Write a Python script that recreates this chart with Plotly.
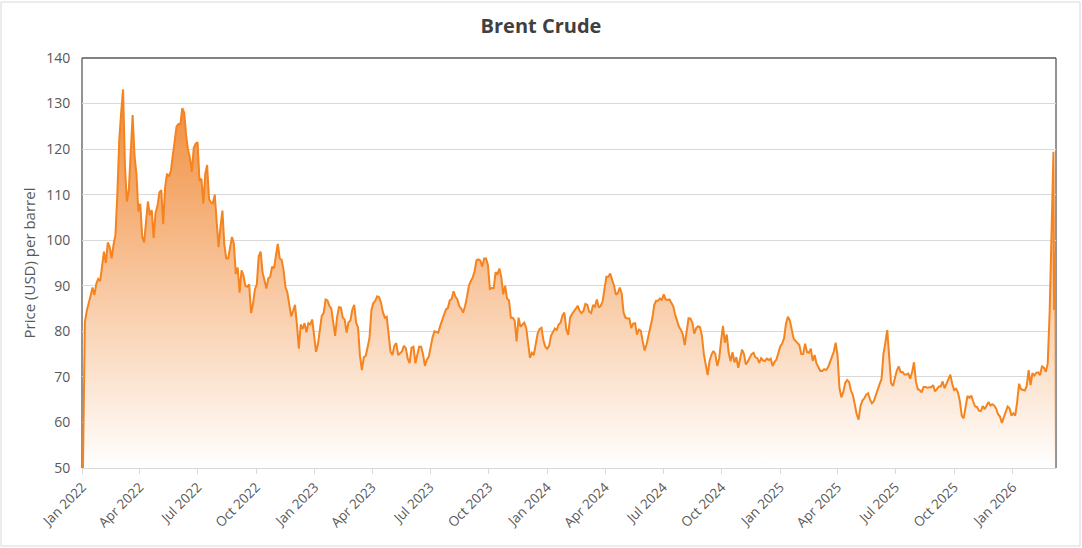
import pandas as pd
import plotly.graph_objects as go

# Brent crude price (USD per barrel) at 3-day spacing
grid_dates = pd.date_range("2022-01-02", periods=509, freq="3D").strftime("%Y-%m-%d").tolist()
tail_dates = ["2026-03-07", "2026-03-09", "2026-03-10"]
dates = grid_dates + tail_dates

grid_prices = [
    50, 82, 84.5, 86.5, 87.8, 89.6, 88, 90.5, 91.5, 91,
    94.5, 97.5, 95, 99.5, 98.5, 96, 99, 101.1, 110, 122,
    128, 133.1, 116, 108.5, 111, 121, 127.5, 118.5, 114.5, 106.3,
    108, 100.8, 99.5, 104, 108.5, 105.5, 106.6, 100.5, 106, 107.5,
    110.5, 111, 103.5, 111.5, 114.6, 114, 115.2, 118.5, 121.5, 125,
    125.5, 125.5, 129, 128, 123, 119.8, 118, 115, 120.3, 121.2,
    121.5, 113, 113.5, 108, 114.5, 116.5, 109, 108.3, 108.1, 110,
    104, 98.5, 103, 106.5, 99, 96, 96, 98, 100.7, 99.3,
    92.6, 94, 88.5, 93.4, 92.3, 90, 89.8, 90.3, 84, 86,
    89.2, 90.3, 96.5, 97.5, 93, 91.2, 89.4, 91.6, 92, 94.2,
    93.8, 96.6, 99.2, 96, 95.7, 93.5, 89.7, 88.5, 85.5, 83.3,
    84.5, 85.8, 81.5, 76.2, 81.5, 80.5, 81.8, 79.8, 81.8, 81.5,
    82.6, 79, 75.5, 77.2, 80.5, 83.4, 84, 87, 86.8, 85.6,
    85, 81.8, 79, 83, 85.3, 85.2, 83, 82.6, 79.7, 82,
    82.4, 84.8, 85.8, 81.9, 80.8, 74.6, 71.5, 74.3, 74.6, 76.5,
    78.6, 84.7, 86.2, 86.7, 87.7, 87.5, 86.3, 84.2, 83, 83.2,
    78.8, 75.5, 74.8, 76.8, 77.4, 74.8, 75.2, 75.6, 76.8, 76.3,
    74, 73, 76.4, 76.6, 73, 74.5, 76.6, 76.6, 75, 72.4,
    73.8, 74.4, 76.8, 78.7, 80, 79.8, 79.7, 81.2, 82.5, 84,
    84.8, 85.1, 86.8, 87.1, 88.8, 87.6, 87, 85.5, 85, 84.1,
    85.5, 87.5, 90, 91, 91.8, 93.2, 95.6, 95.8, 95.5, 94.2,
    96, 96, 94.5, 89.3, 89.5, 89.5, 93, 92.6, 93.8, 91.8,
    88.1, 90, 87.2, 86.8, 83, 83, 82.3, 77.8, 83, 81,
    81.5, 81.9, 80.8, 78, 74.2, 75.3, 74.8, 77.2, 79.5, 80.5,
    80.8, 78.1, 76.6, 76.2, 76.8, 79, 79.8, 80.6, 80.3, 81.5,
    81.9, 83.5, 84.1, 80.5, 79.2, 83, 83.8, 84.5, 84.9, 85.6,
    84.5, 84, 84.5, 86, 85.8, 84.3, 84, 85.8, 85.4, 87,
    85.2, 85.6, 86.6, 89, 92, 92, 92.7, 91.3, 90, 88,
    88.4, 89.6, 88.3, 84.1, 83, 82.8, 82.8, 80.7, 81.7, 81.8,
    79.3, 80.4, 80.1, 77.8, 75.8, 77.1, 78.8, 80.5, 82.8, 85.7,
    86.7, 86.7, 87.2, 86.9, 88.1, 87, 86.9, 87, 86.3, 85.5,
    83.6, 82.3, 81, 80.3, 79.3, 77, 80.5, 82.9, 82.8, 81.9,
    79.5, 80.7, 81.1, 80.9, 79, 75, 72.7, 70.4, 73.5, 74.9,
    75.7, 75, 72.4, 74, 77.8, 81.2, 77.5, 79.3, 75.3, 73.4,
    75.4, 73.2, 74.3, 72, 74, 76, 75, 72.7, 73.4, 74.2,
    75, 75.3, 74.3, 74.1, 73.1, 74.1, 73.6, 73.5, 74, 73.7,
    74, 72.4, 73.3, 73.8, 75, 76.7, 77.3, 78.5, 81.7, 83.2,
    82.4, 80.1, 78.4, 77.9, 77.5, 77, 75, 75, 77.3, 75.4,
    75.3, 76.2, 73.5, 74.8, 72.9, 72, 71.3, 71.3, 71.7, 71.5,
    72.1, 73.2, 74.2, 75.5, 77.5, 74.6, 67.5, 65.5, 66.7, 68.7,
    69.3, 68.9, 67, 66, 64, 61.8, 60.6, 63.6, 64.8, 65.3,
    66.1, 66.4, 65, 64.2, 64.7, 66, 67.5, 68.4, 69.5, 75,
    77.5, 80.3, 74.5, 68.6, 68, 70, 71.4, 72.3, 71.1, 71.1,
    70.5, 70.5, 70.7, 69.6, 71, 73.2, 69, 67.3, 67.1, 66.6,
    67.8, 67.8, 67.6, 67.7, 67.7, 68.2, 66.8, 67.3, 67.9, 67.9,
    69, 67.5, 68.6, 69.4, 70.5, 68.5, 67.1, 67.4, 66.6, 64.7,
    61.5, 60.9, 63, 65.8, 65.4, 65.9, 64.6, 63.5, 63.4, 62.6,
    62.5, 63.6, 62.9, 63.8, 64.5, 63.7, 64, 63.7, 63, 61.8,
    61.3, 59.9, 61.2, 62.6, 63.5, 63.1, 61.5, 62, 61.5, 64.5,
    68.5, 67.3, 67.1, 67, 68, 71.5, 68.2, 70.8, 70.3, 70.9,
    71, 70.4, 72.3, 72, 71.1, 72.9, 84, 106, 119.4,
]
tail_prices = [84.7, 97.2, 50]
prices = grid_prices + tail_prices

tick_dates = ["2022-01-01", "2022-04-01", "2022-07-01", "2022-10-01",
              "2023-01-01", "2023-04-01", "2023-07-01", "2023-10-01",
              "2024-01-01", "2024-04-01", "2024-07-01", "2024-10-01",
              "2025-01-01", "2025-04-01", "2025-07-01", "2025-10-01",
              "2026-01-01"]
tick_labels = ["Jan 2022", "Apr 2022", "Jul 2022", "Oct 2022",
               "Jan 2023", "Apr 2023", "Jul 2023", "Oct 2023",
               "Jan 2024", "Apr 2024", "Jul 2024", "Oct 2024",
               "Jan 2025", "Apr 2025", "Jul 2025", "Oct 2025",
               "Jan 2026"]
y_ticks = [50, 60, 70, 80, 90, 100, 110, 120, 130, 140]

FONT = "Open Sans"
fig = go.Figure()
fig.add_trace(go.Scatter(
    x=dates, y=prices, mode="lines",
    line=dict(color="#F5841F", width=2),
    fill="tozeroy",
    fillgradient=dict(type="vertical",
                      colorscale=[[0, "rgba(255,255,255,1)"], [1, "rgba(240,136,52,1)"]],
                      start=50, stop=135),
    showlegend=False, hoverinfo="x+y",
))

ML, MR, MT, MB = 82, 26, 58, 80
W, H = 1082, 548
pw, ph = W - ML - MR, H - MT - MB

def px_to_paper_x(px):
    return (px - ML) / pw

def py_to_paper_y(py):
    return (H - MB - py) / ph

shapes = [
    # outer chart border
    dict(type="rect", xref="paper", yref="paper",
         x0=px_to_paper_x(1), x1=px_to_paper_x(1080),
         y0=py_to_paper_y(546), y1=py_to_paper_y(2),
         line=dict(color="#D9D9D9", width=1), layer="below"),
    # plot frame: left, top, right
    dict(type="line", xref="paper", yref="paper", x0=0, x1=0, y0=0, y1=1,
         line=dict(color="#595959", width=1.3), layer="between"),
    dict(type="line", xref="paper", yref="paper", x0=0, x1=1, y0=1, y1=1,
         line=dict(color="#595959", width=1.3), layer="between"),
    dict(type="line", xref="paper", yref="paper", x0=1, x1=1, y0=0, y1=1,
         line=dict(color="#595959", width=1.3), layer="between"),
]

fig.update_layout(
    width=W, height=H,
    margin=dict(l=ML, r=MR, t=MT, b=MB, pad=0),
    paper_bgcolor="white", plot_bgcolor="white",
    font=dict(family=FONT, color="#595959"),
    title=dict(text="<b>Brent Crude</b>", x=0.5, xref="container", xanchor="center",
               y=1 - 26 / H, yref="container", yanchor="middle",
               font=dict(family=FONT, size=20, color="#404040")),
    shapes=shapes,
    xaxis=dict(
        type="date", range=["2021-12-31 12:00", "2026-03-10"],
        tickmode="array", tickvals=tick_dates, ticktext=tick_labels,
        tickangle=-45, tickfont=dict(size=13.5, color="#595959"),
        showgrid=False, zeroline=False,
        showline=True, linecolor="#D9D9D9", linewidth=1,
        ticks="outside", ticklen=5, tickcolor="#D9D9D9",
    ),
    yaxis=dict(
        range=[50, 140], tickmode="array", tickvals=y_ticks,
        tickfont=dict(size=14, color="#595959"),
        showgrid=True, gridcolor="#D9D9D9", gridwidth=1,
        zeroline=False, showline=False,
        ticks="outside", ticklen=8, tickcolor="rgba(0,0,0,0)",
        title=dict(text="Price (USD) per barrel", standoff=6,
                   font=dict(size=15, color="#595959")),
    ),
)

fig.write_html("out.html",
               config={"displayModeBar": False},
               post_script="document.body.style.margin='0';document.body.style.overflow='hidden';")
